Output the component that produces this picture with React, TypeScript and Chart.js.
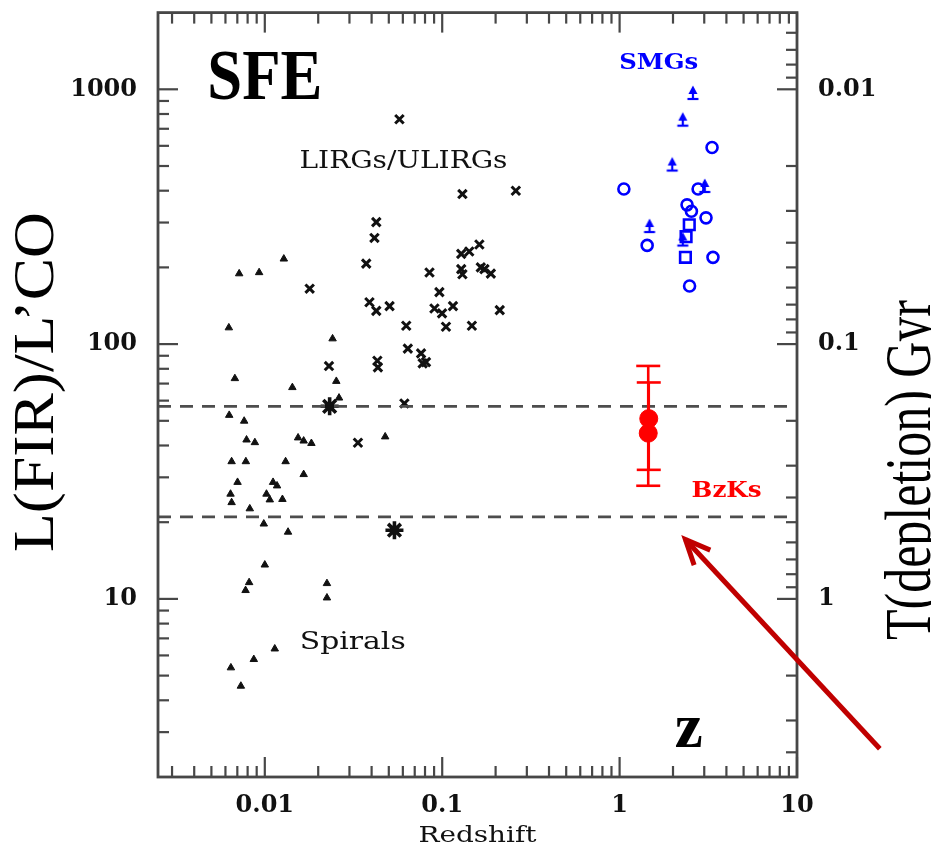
import React, { useEffect, useRef } from "react";
import { Chart, registerables } from "chart.js";

Chart.register(...registerables);

// ---------- axes ----------
const X_MIN = 0.0025;
const X_MAX = 10;
const Y_MIN = 2;
const Y_MAX = 2000;
const T_MIN = 0.005; // 10 / Y_MAX
const T_MAX = 5; // 10 / Y_MIN

const X_MAJOR = [0.01, 0.1, 1, 10];
const X_LABELS = ["0.01", "0.1", "1", "10"];
const X_MINOR = [
  0.003, 0.004, 0.005, 0.006, 0.007, 0.008, 0.009,
  0.02, 0.03, 0.04, 0.05, 0.06, 0.07, 0.08, 0.09,
  0.2, 0.3, 0.4, 0.5, 0.6, 0.7, 0.8, 0.9,
  2, 3, 4, 5, 6, 7, 8, 9,
];
const Y_MAJOR = [10, 100, 1000];
const Y_LABELS = ["10", "100", "1000"];
const Y_MINOR = [
  3, 4, 5, 6, 7, 8, 9,
  20, 30, 40, 50, 60, 70, 80, 90,
  200, 300, 400, 500, 600, 700, 800, 900,
];
const T_MAJOR = [0.01, 0.1, 1];
const T_LABELS = ["0.01", "0.1", "1"];
const T_MINOR = [
  0.006, 0.007, 0.008, 0.009,
  0.02, 0.03, 0.04, 0.05, 0.06, 0.07, 0.08, 0.09,
  0.2, 0.3, 0.4, 0.5, 0.6, 0.7, 0.8, 0.9,
  2, 3, 4,
];

// ---------- data ----------
const LIRG_Z = [
  0.0574, 0.13, 0.26, 0.0425, 0.0415, 0.128, 0.142, 0.162, 0.0373, 0.0848,
  0.128, 0.13, 0.165, 0.173, 0.188, 0.0179, 0.0964, 0.0389, 0.0425, 0.0505,
  0.0904, 0.0998, 0.115, 0.211, 0.0627, 0.105, 0.147, 0.064, 0.076, 0.081,
  0.0776, 0.023, 0.0431, 0.0434, 0.0612, 0.0335,
];
const LIRG_L = [
  763, 388, 400, 301, 261, 226, 231, 246, 207, 191,
  197, 188, 200, 197, 189, 165, 160, 146, 135, 141,
  138, 132, 141, 136, 118, 117, 118, 96, 92, 85,
  84, 82, 86, 81, 58.5, 41,
];
const STAR_Z = [0.0232, 0.0538];
const STAR_L = [57, 18.6];

const SPIRAL_Z = [
  0.00717, 0.00929, 0.0128, 0.00627, 0.0241, 0.00678, 0.0253, 0.0143, 0.0262, 0.0063,
  0.00765, 0.00789, 0.00879, 0.0154, 0.01656, 0.01831, 0.0477, 0.0065, 0.00782, 0.0131,
  0.01656, 0.00702, 0.01113, 0.01172, 0.00641, 0.0065, 0.01022, 0.01067, 0.01257, 0.00823,
  0.00987, 0.01352, 0.01, 0.00816, 0.00779, 0.0224, 0.0224, 0.01138, 0.00867, 0.00644,
  0.00733,
];
const SPIRAL_L = [
  189, 191, 216, 116, 105, 73.3, 71.5, 67.6, 61.5, 52.6,
  49.9, 42.1, 41.1, 42.9, 41.7, 40.8, 43.3, 34.6, 34.6, 34.6,
  30.8, 28.7, 28.7, 27.8, 25.8, 23.9, 25.8, 24.5, 24.6, 22.6,
  19.7, 18.3, 13.6, 11.6, 10.8, 11.5, 10.1, 6.37, 5.79, 5.37,
  4.55,
];

const SMG_LIMIT_Z = [2.59, 2.27, 1.98, 3.02, 1.475, 2.27];
const SMG_LIMIT_L = [985, 774, 516, 425, 296, 262];
const SMG_CIRCLE_Z = [1.057, 3.32, 2.77, 2.4, 2.54, 3.07, 1.43, 3.36, 2.48];
const SMG_CIRCLE_L = [406, 591, 406, 352, 332, 313, 244, 219, 169];
const SMG_SQUARE_Z = [2.47, 2.37, 2.35];
const SMG_SQUARE_L = [294, 264, 219];

const BZK_Z = [1.46, 1.45];
const BZK_L = [51, 44.7];
const BZK_LO = [32.1, 27.8];
const BZK_HI = [70.7, 82.1];

const SFE_LINES = [57, 21];

// arrow in data space: tip, tail
const ARROW_Z = [2.35, 29.3];
const ARROW_L = [17.1, 2.58];

// ---------- styles ----------
const INK = "#111111";
const BLUE = "#0000ff";
const RED = "#ff0000";
const FRAME = "#474747";
const DARKRED = "#c00000";

const NOTES = [
  { text: "SFE", z: 0.01, l: 916, font: 'bold 72px "Liberation Serif"', color: "#000", width: 115 },
  { text: "LIRGs/ULIRGs", z: 0.0605, l: 492, font: '24px "DejaVu Serif"', color: INK, width: 208 },
  { text: "Spirals", z: 0.0313, l: 6.34, font: '24px "DejaVu Serif"', color: INK, width: 106 },
  { text: "SMGs", z: 1.66, l: 1200, font: 'bold 22px "DejaVu Serif"', color: BLUE, width: 79 },
  { text: "BzKs", z: 4.01, l: 25.1, font: 'bold 22px "DejaVu Serif"', color: RED, width: 70 },
  { text: "z", z: 2.45, l: 2.62, font: 'bold 64px "Liberation Serif"', color: "#000", width: 28 },
];

const pts = (zs: number[], ls: number[]) => zs.map((z, i) => ({ x: z, y: ls[i] }));

function makeLimitMarker(color: string) {
  const c = document.createElement("canvas");
  c.width = 16;
  c.height = 26;
  const g = c.getContext("2d")!;
  g.fillStyle = color;
  g.strokeStyle = color;
  g.beginPath();
  g.moveTo(8, 7.5);
  g.lineTo(12.5, 16);
  g.lineTo(3.5, 16);
  g.closePath();
  g.fill();
  g.lineWidth = 2.2;
  g.beginPath();
  g.moveTo(8, 15);
  g.lineTo(8, 21);
  g.stroke();
  g.beginPath();
  g.moveTo(2.5, 21);
  g.lineTo(13.5, 21);
  g.stroke();
  return c;
}

function drawText(
  ctx: CanvasRenderingContext2D,
  text: string,
  x: number,
  y: number,
  font: string,
  color: string,
  width?: number,
  rotate = 0
) {
  ctx.save();
  ctx.font = font;
  ctx.fillStyle = color;
  const w = ctx.measureText(text).width;
  const s = width ? width / w : 1;
  ctx.translate(x, y);
  if (rotate) ctx.rotate(rotate);
  ctx.scale(s, 1);
  ctx.textAlign = "center";
  ctx.textBaseline = "alphabetic";
  ctx.fillText(text, 0, 0);
  ctx.restore();
}

const decor = {
  id: "decor",
  afterDatasetsDraw(chart: any) {
    const { ctx } = chart;
    const xs = chart.scales.x;
    const ys = chart.scales.y;
    ctx.save();
    ctx.strokeStyle = RED;
    ctx.lineWidth = 2.6;
    const seg = (a: number, b: number, c: number, d: number) => {
      ctx.beginPath();
      ctx.moveTo(a, b);
      ctx.lineTo(c, d);
      ctx.stroke();
    };
    BZK_Z.forEach((z, i) => {
      const px = xs.getPixelForValue(z);
      const lo = ys.getPixelForValue(BZK_LO[i]);
      const hi = ys.getPixelForValue(BZK_HI[i]);
      seg(px, lo, px, hi);
      seg(px - 12, lo, px + 12, lo);
      seg(px - 12, hi, px + 12, hi);
    });
    ctx.restore();
  },
  afterDraw(chart: any) {
    const { ctx, chartArea: a } = chart;
    const xs = chart.scales.x;
    const ys = chart.scales.y;
    const ts = chart.scales.y2;
    const seg = (x1: number, y1: number, x2: number, y2: number) => {
      ctx.beginPath();
      ctx.moveTo(x1, y1);
      ctx.lineTo(x2, y2);
      ctx.stroke();
    };
    ctx.save();
    // frame
    ctx.strokeStyle = FRAME;
    ctx.lineWidth = 2.8;
    ctx.strokeRect(a.left, a.top, a.right - a.left, a.bottom - a.top);
    ctx.lineWidth = 2.2;
    const MAJ = 20;
    const MIN = 11;
    X_MAJOR.forEach((v) => {
      const p = xs.getPixelForValue(v);
      seg(p, a.bottom, p, a.bottom - MAJ);
      seg(p, a.top, p, a.top + MAJ);
    });
    X_MINOR.forEach((v) => {
      const p = xs.getPixelForValue(v);
      seg(p, a.bottom, p, a.bottom - MIN);
      seg(p, a.top, p, a.top + MIN);
    });
    Y_MAJOR.forEach((v) => {
      const p = ys.getPixelForValue(v);
      seg(a.left, p, a.left + MAJ, p);
    });
    Y_MINOR.forEach((v) => {
      const p = ys.getPixelForValue(v);
      seg(a.left, p, a.left + MIN, p);
    });
    T_MAJOR.forEach((v) => {
      const p = ts.getPixelForValue(v);
      seg(a.right, p, a.right - MAJ, p);
    });
    T_MINOR.forEach((v) => {
      const p = ts.getPixelForValue(v);
      seg(a.right, p, a.right - MIN, p);
    });
    ctx.restore();

    // annotations
    NOTES.forEach((n) => {
      drawText(ctx, n.text, xs.getPixelForValue(n.z), ys.getPixelForValue(n.l), n.font, n.color, n.width);
    });

    // red arrow
    const tx = xs.getPixelForValue(ARROW_Z[0]);
    const ty = ys.getPixelForValue(ARROW_L[0]);
    const ex = xs.getPixelForValue(ARROW_Z[1]);
    const ey = ys.getPixelForValue(ARROW_L[1]);
    ctx.save();
    ctx.strokeStyle = DARKRED;
    ctx.lineWidth = 5;
    ctx.lineCap = "butt";
    seg(ex, ey, tx, ty);
    const ang = Math.atan2(ey - ty, ex - tx);
    const head = 27;
    const spread = 0.42;
    ctx.beginPath();
    ctx.moveTo(tx + head * Math.cos(ang - spread), ty + head * Math.sin(ang - spread));
    ctx.lineTo(tx, ty);
    ctx.lineTo(tx + head * Math.cos(ang + spread), ty + head * Math.sin(ang + spread));
    ctx.stroke();
    ctx.restore();

    // axis titles
    drawText(ctx, "L(FIR)/L\u2019CO", 53, 382, '57px "Liberation Serif"', "#000", 340, -Math.PI / 2);
    drawText(ctx, "T(depletion) Gyr", 930, 470, '66px "Liberation Serif"', "#000", 340, -Math.PI / 2);
    drawText(ctx, "Redshift", (a.left + a.right) / 2, 842, '23px "DejaVu Serif"', INK, 118);
  },
};

const noPad = (w: number | null, h: number | null) => (s: any) => {
  if (w !== null) s.width = w;
  if (h !== null) s.height = h;
  s.paddingTop = 0;
  s.paddingBottom = 0;
  s.paddingLeft = 0;
  s.paddingRight = 0;
};

export default function App() {
  const ref = useRef<HTMLCanvasElement>(null);
  useEffect(() => {
    const canvas = ref.current!;
    const limitMarker = makeLimitMarker(BLUE);
    const tickFont = { family: "DejaVu Serif", size: 24, weight: "bold" as const };
    const hiddenGrid = { display: false, drawTicks: false, tickLength: 0 };
    const chart = new Chart(canvas, {
      type: "scatter",
      data: {
        datasets: [
          ...SFE_LINES.map((v) => ({
            type: "line" as const,
            data: [
              { x: X_MIN, y: v },
              { x: X_MAX, y: v },
            ],
            borderColor: "#4d4d4d",
            borderWidth: 2.8,
            borderDash: [13, 9],
            pointRadius: 0,
            fill: false,
          })),
          {
            data: pts(SPIRAL_Z, SPIRAL_L),
            pointStyle: "triangle",
            pointRadius: 4.3,
            backgroundColor: INK,
            borderColor: INK,
            borderWidth: 1,
          },
          {
            data: pts(LIRG_Z, LIRG_L),
            pointStyle: "crossRot",
            pointRadius: 6,
            borderColor: INK,
            borderWidth: 3,
          },
          {
            data: pts(STAR_Z, STAR_L),
            pointStyle: "star",
            pointRadius: 9,
            borderColor: INK,
            borderWidth: 3.6,
          },
          {
            data: pts(SMG_LIMIT_Z, SMG_LIMIT_L),
            pointStyle: limitMarker,
            pointRadius: 8,
          },
          {
            data: pts(SMG_CIRCLE_Z, SMG_CIRCLE_L),
            pointStyle: "circle",
            pointRadius: 5.5,
            borderColor: BLUE,
            backgroundColor: "rgba(0,0,0,0)",
            borderWidth: 2.6,
          },
          {
            data: pts(SMG_SQUARE_Z, SMG_SQUARE_L),
            pointStyle: "rect",
            pointRadius: 7.5,
            borderColor: BLUE,
            backgroundColor: "rgba(0,0,0,0)",
            borderWidth: 2.6,
          },
          {
            data: pts(BZK_Z, BZK_L),
            pointStyle: "circle",
            pointRadius: 9,
            backgroundColor: RED,
            borderColor: RED,
            borderWidth: 1,
          },
        ],
      },
      options: {
        animation: false,
        responsive: false,
        devicePixelRatio: 1,
        layout: { padding: { top: 12.5, left: 0, right: 0, bottom: 0 } },
        plugins: { legend: { display: false }, tooltip: { enabled: false } },
        scales: {
          x: {
            type: "logarithmic",
            position: "bottom",
            min: X_MIN,
            max: X_MAX,
            grid: hiddenGrid,
            border: { display: false },
            afterFit: noPad(null, 75),
            afterBuildTicks: (s: any) => {
              s.ticks = X_MAJOR.map((v) => ({ value: v }));
            },
            ticks: {
              autoSkip: false,
              maxRotation: 0,
              padding: 14,
              color: INK,
              font: tickFont,
              callback: (_v: any, i: number) => X_LABELS[i],
            },
          },
          y: {
            type: "logarithmic",
            position: "left",
            min: Y_MIN,
            max: Y_MAX,
            grid: hiddenGrid,
            border: { display: false },
            afterFit: noPad(158, null),
            afterBuildTicks: (s: any) => {
              s.ticks = Y_MAJOR.map((v) => ({ value: v }));
            },
            ticks: {
              autoSkip: false,
              padding: 21,
              color: INK,
              font: tickFont,
              callback: (_v: any, i: number) => Y_LABELS[i],
            },
          },
          y2: {
            type: "logarithmic",
            position: "right",
            reverse: true,
            min: T_MIN,
            max: T_MAX,
            grid: hiddenGrid,
            border: { display: false },
            afterFit: noPad(134, null),
            afterBuildTicks: (s: any) => {
              s.ticks = T_MAJOR.map((v) => ({ value: v }));
            },
            ticks: {
              autoSkip: false,
              padding: 21,
              color: INK,
              font: tickFont,
              callback: (_v: any, i: number) => T_LABELS[i],
            },
          },
        },
      } as any,
      plugins: [decor],
    });
    return () => chart.destroy();
  }, []);
  return (
    <div style={{ position: "fixed", left: 0, top: 0, width: 931, height: 852, background: "#fff" }}>
      <canvas ref={ref} width={931} height={852} style={{ display: "block" }} />
    </div>
  );
}
